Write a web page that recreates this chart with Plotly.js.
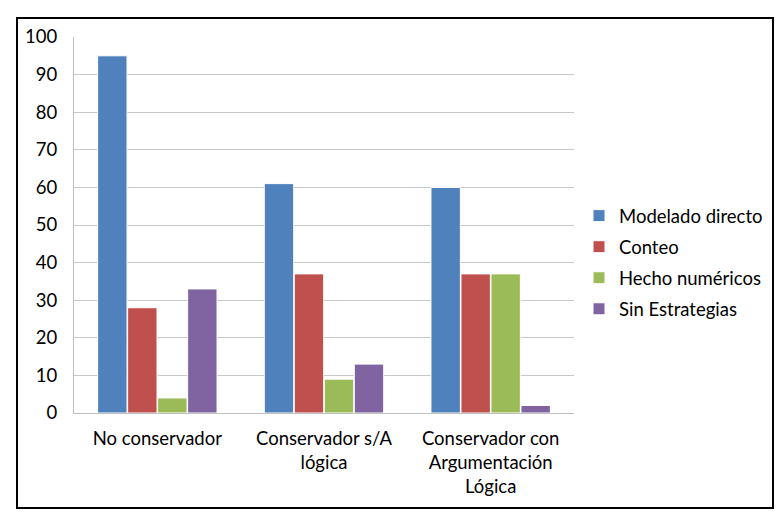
<!DOCTYPE html>
<html>
<head>
<meta charset="utf-8">
<script src="https://cdn.plot.ly/plotly-3.0.1.min.js"></script>
<style>
html,body{margin:0;padding:0;background:#fff;}
#wrap{position:relative;width:781px;height:512px;}
#chart{width:781px;height:512px;}
#frame{position:absolute;left:16px;top:17px;width:754px;height:488px;border:2px solid #000;pointer-events:none;}
</style>
</head>
<body>
<div id="wrap"><div id="chart"></div><div id="frame"></div></div>
<script>
const categories = ["No conservador", "Conservador s/A<br>lógica", "Conservador con<br>Argumentación<br>Lógica"];
const seriesNames = ["Modelado directo", "Conteo", "Hecho numéricos", "Sin Estrategias"];
const modelado = [95, 61, 60];
const conteo = [28, 37, 37];
const hecho = [4, 9, 37];
const sinEstr = [33, 13, 2];
const colors = ["#4F81BD", "#C0504D", "#9BBB59", "#8064A2"];
const yTicks = [0,10,20,30,40,50,60,70,80,90,100];

const values = [modelado, conteo, hecho, sinEstr];
const font = "Lato, 'Open Sans', sans-serif";
const fs = 18.5;
const traces = values.map((v,i)=>({
  type:'bar', x:categories, y:v, name:seriesNames[i], legendgroup:'g'+i,
  marker:{color:colors[i], line:{color:'#ffffff', width:1}}
}));

const layout = {
  width:781, height:512,
  margin:{l:74, r:207, t:37, b:99},
  paper_bgcolor:'#fff', plot_bgcolor:'#fff',
  barmode:'group', bargap:0.28, bargroupgap:0.02,
  font:{family:font, size:fs, color:'#000'},
  showlegend:true,
  legend:{x:1.01, xanchor:'left', y:0.40, yanchor:'middle', font:{family:font, size:fs, color:'#000'}, itemwidth:30, tracegroupgap:4},
  xaxis:{type:'category', showline:true, linecolor:'#bfbfbf', linewidth:1, ticks:'outside', ticklen:9, tickcolor:'rgba(0,0,0,0)', tickfont:{family:font,size:fs,color:'#000'}, fixedrange:true, automargin:false},
  yaxis:{range:[0,100], tickvals:yTicks, showgrid:true, gridcolor:'#c8c8c8', gridwidth:1,
    showline:true, linecolor:'#bfbfbf', linewidth:1, ticks:'outside', ticklen:12, tickcolor:'rgba(0,0,0,0)',
    tickfont:{family:font,size:fs,color:'#000'}, zeroline:false, automargin:false},
};
Plotly.newPlot('chart', traces, layout, {displayModeBar:false, staticPlot:true});
</script>
</body>
</html>
